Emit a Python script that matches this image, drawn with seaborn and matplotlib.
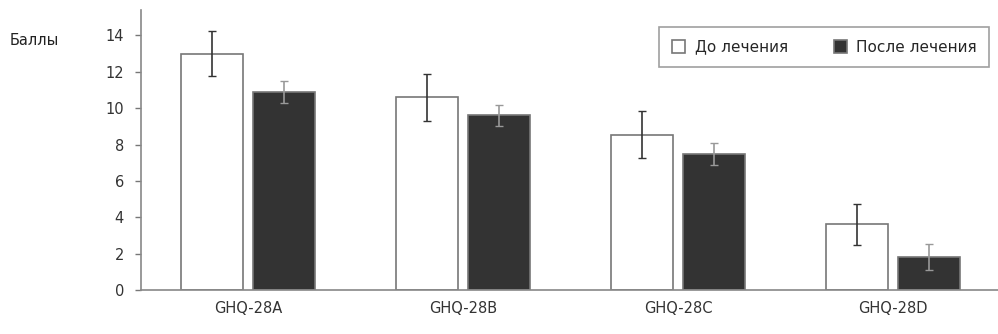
import matplotlib
matplotlib.use("Agg")
import matplotlib.pyplot as plt
import seaborn as sns
import pandas as pd
import numpy as np

categories = ["GHQ-28A", "GHQ-28B", "GHQ-28C", "GHQ-28D"]
series_names = ["До лечения", "После лечения"]
before_vals = [13.0, 10.6, 8.55, 3.6]
after_vals = [10.9, 9.6, 7.5, 1.8]
before_err = [1.25, 1.3, 1.3, 1.15]
after_err = [0.6, 0.6, 0.6, 0.7]
y_ticks = [0, 2, 4, 6, 8, 10, 12, 14]
y_label = "Баллы"

df = pd.DataFrame({
    "cat": categories * 2,
    "series": [series_names[0]] * 4 + [series_names[1]] * 4,
    "val": before_vals + after_vals,
    "err": before_err + after_err,
})

sns.set_theme(style="white")
plt.rcParams['font.family'] = ['DejaVu Sans']

fig = plt.figure(figsize=(9.98, 3.34), dpi=100)
ax = fig.add_axes([0.141, 0.132, 0.864, 0.838])

sns.barplot(data=df, x="cat", y="val", hue="series", order=categories,
            hue_order=series_names, palette=["white", "#333333"],
            width=0.67, gap=0.14, errorbar=None, edgecolor="#777777",
            linewidth=1.2, ax=ax, legend=True)

bars = [p for p in ax.patches if p.get_height() > 0][:8]
for i, p in enumerate(bars):
    xc = p.get_x() + p.get_width() / 2
    h = p.get_height()
    e = df["err"].iloc[i]
    col = "#333333" if i < 4 else "#999999"
    ax.errorbar(xc, h, yerr=e, fmt="none", ecolor=col, elinewidth=1.2,
                capsize=3, capthick=1.0, zorder=5)

ax.set_ylim(0, 15.4)
ax.set_xlim(-0.5, 3.51)
ax.set_yticks(y_ticks)
ax.set_yticklabels([str(t) for t in y_ticks], fontsize=10.5, color="#333333")
ax.tick_params(axis="x", labelsize=10.5, colors="#333333", length=0, pad=8)
ax.tick_params(axis="y", length=4, width=1, color="#777777", direction="out", left=True, pad=8)
ax.set_xlabel("")
ax.set_ylabel("")
for s in ["top", "right"]:
    ax.spines[s].set_visible(False)
for s in ["left", "bottom"]:
    ax.spines[s].set_color("#888888")
    ax.spines[s].set_linewidth(1.2)

fig.text(0.010, 0.88, y_label, fontsize=10.5, color="#222222", ha="left", va="center")

leg = ax.legend(loc="upper right", bbox_to_anchor=(0.993, 0.965), ncol=2,
                frameon=True, fontsize=11, handlelength=0.9, handleheight=0.9,
                columnspacing=3.0, handletextpad=0.6, borderpad=0.8, fancybox=False)
leg.get_frame().set_edgecolor("#888888")
leg.get_frame().set_linewidth(1.2)

fig.savefig("out.png", dpi=100)
